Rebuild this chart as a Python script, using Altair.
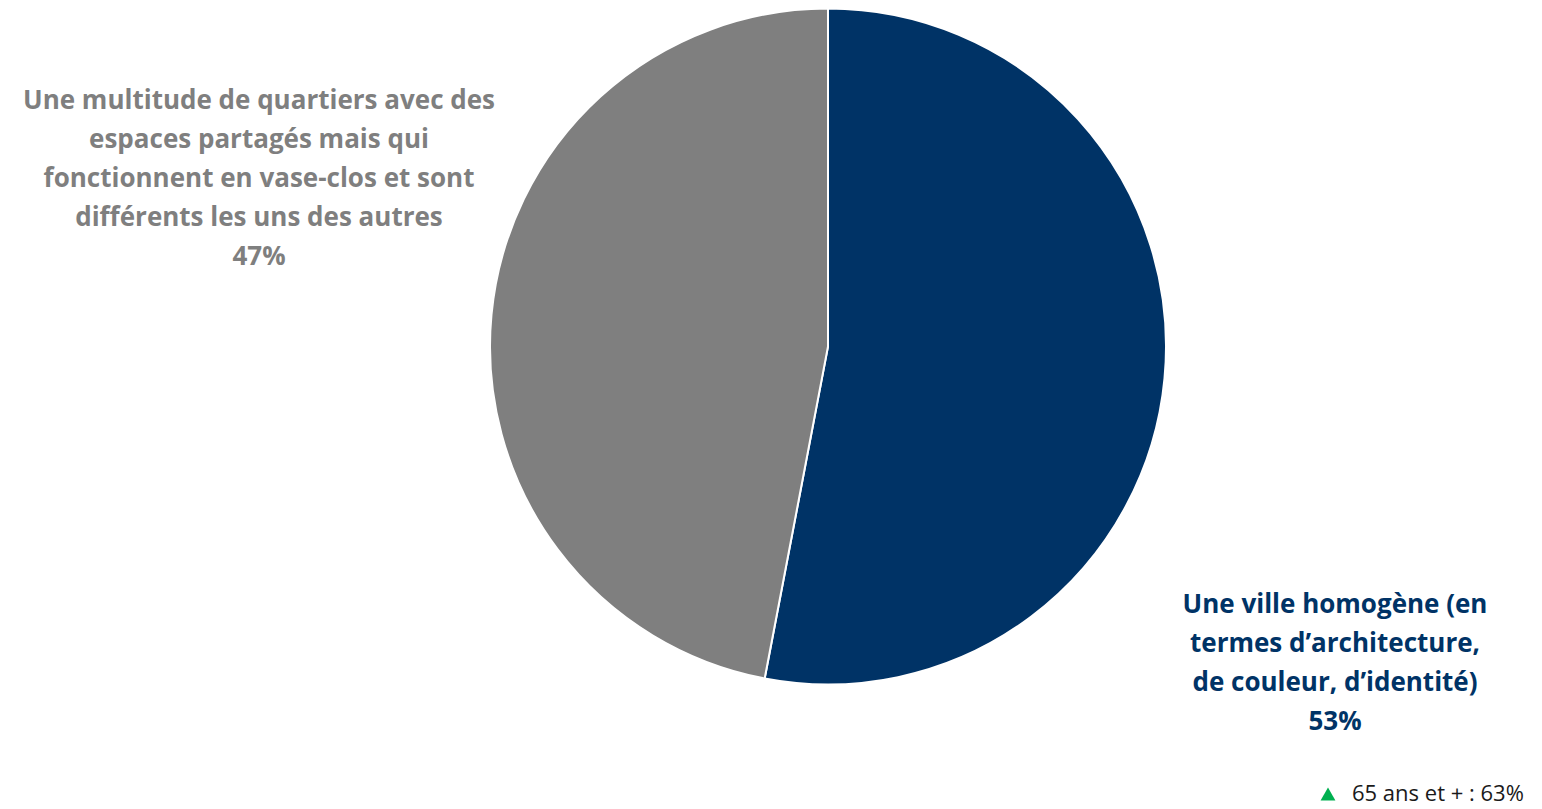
import altair as alt
import pandas as pd

categories = ["Une ville homogène (en termes d’architecture, de couleur, d’identité)",
              "Une multitude de quartiers avec des espaces partagés mais qui fonctionnent en vase-clos et sont différents les uns des autres"]
values = [53, 47]
colors = ["#003366", "#7f7f7f"]
order = [1, 2]

label_gray = ["Une multitude de quartiers avec des", "espaces partagés mais qui",
              "fonctionnent en vase-clos et sont", "différents les uns des autres", "47%"]
label_navy = ["Une ville homogène (en", "termes d’architecture,", "de couleur, d’identité)", "53%"]
footnote = "65 ans et + : 63%"

df = pd.DataFrame({"cat": categories, "value": values, "order": order})

W, H = 1526, 801
FONT = "Open Sans"

pie = alt.Chart(df).mark_arc(outerRadius=338, stroke="white", strokeWidth=2).encode(
    theta=alt.Theta("value:Q", stack=True),
    order=alt.Order("order:Q"),
    color=alt.Color("cat:N", scale=alt.Scale(domain=categories, range=colors), legend=None),
    x=alt.value(820), y=alt.value(338.5),
)

gray_txt = alt.Chart(pd.DataFrame({"t": [label_gray]})).mark_text(
    font=FONT, fontWeight="bold", fontSize=26, color="#7f7f7f", align="center",
    baseline="middle", lineHeight=39,
).encode(text="t", x=alt.value(251), y=alt.value(93))

navy_txt = alt.Chart(pd.DataFrame({"t": [label_navy]})).mark_text(
    font=FONT, fontWeight="bold", fontSize=26, color="#003366", align="center",
    baseline="middle", lineHeight=39,
).encode(text="t", x=alt.value(1327), y=alt.value(597))

tri = alt.Chart(pd.DataFrame({"k": [1]})).mark_point(
    shape="triangle-up", filled=True, color="#00b050", size=220, opacity=1,
).encode(x=alt.value(1320), y=alt.value(786))

foot = alt.Chart(pd.DataFrame({"t": [footnote]})).mark_text(
    font=FONT, fontSize=22, color="#1a1a1a", align="left", baseline="middle",
).encode(text="t", x=alt.value(1344), y=alt.value(786))

chart = alt.layer(pie, gray_txt, navy_txt, tri, foot).properties(
    width=W, height=H, padding=0, autosize=alt.AutoSizeParams(type="none")
).configure_view(stroke=None)

chart.save("out.html", embed_options={"renderer": "svg", "actions": False})
